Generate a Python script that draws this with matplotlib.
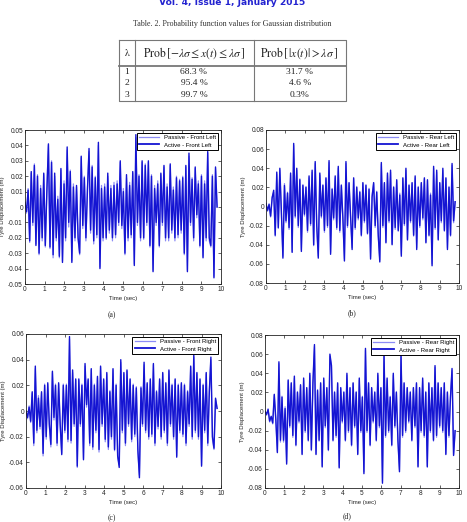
#---------------------------------------
# Tyre displacement - passive vs active
# suspension, four wheels + table page
#---------------------------------------

import numpy as np
import matplotlib
matplotlib.use("Agg")
import matplotlib.pyplot as plt
from matplotlib.ticker import FuncFormatter

# Table data
lambdas = ["1", "2", "3"]
prob_within = ["68.3 %", "95.4 %", "99.7 %"]
prob_outside = ["31.7 %", "4.6 %", "0.3%"]

# Time axis (sec)
T_END = 9.8
x_ticks = [0, 1, 2, 3, 4, 5, 6, 7, 8, 9, 10]

# Tyre displacement, in mm
fl_active_mm = [3, -3, 11, -22, 23, -10, 27, -25, 20, -30,
                12, -20, 22, -25, 10, 41, -26, 29, -31, 22,
                -20, 5, -32, 25, -36, 15, -20, 39, -10, 23,
                -36, 13, -20, 14, -20, -30, 33, -12, 19, -20,
                11, 38, -15, 26, -22, 19, -18, 42, -40, 12,
                -20, 13, -20, 22, -15, 12, -20, 14, -18, 15,
                -10, 30, -12, 10, -30, 21, -20, 14, -18, 23,
                -38, 47, -10, 20, -20, 30, -20, 27, -10, 30,
                -25, 20, -42, 12, -10, 15, -25, 22, -10, 27,
                -20, 13, -20, 28, -15, 11, -20, 19, -18, 17,
                -15, 19, -30, 27, -42, 35, -10, 18, -20, 26,
                -5, 15, -25, 20, -33, 15, -20, 36, -20, -25,
                20, -46, 26, 0]
fl_passive_mm = [3, -4, 12, -23, 22, -12, 28, -24, 21, -31,
                 14, -22, 21, -26, 12, 40, -27, 30, -33, 20,
                 -22, 7, -33, 24, -35, 17, -22, 37, -13, 24,
                 -35, 15, -22, 13, -21, -31, 32, -14, 20, -22,
                 13, 36, -17, 27, -24, 20, -20, 40, -39, 14,
                 -22, 15, -21, 20, -17, 14, -22, 16, -20, 17,
                 -12, 29, -14, 12, -31, 19, -22, 16, -20, 22,
                 -37, 45, -12, 21, -22, 29, -21, 28, -12, 29,
                 -26, 21, -41, 14, -12, 17, -26, 21, -12, 26,
                 -22, 15, -22, 27, -17, 13, -22, 20, -20, 18,
                 -17, 20, -31, 26, -41, 33, -12, 19, -22, 25,
                 -7, 17, -26, 21, -32, 17, -22, 35, -22, -26,
                 21, -45, 25, 0]

rl_active_mm = [3, -4, 2, -10, 9, 17, -30, 36, -22, 40,
                -5, -54, 22, -15, 14, -22, 35, -48, 66, -10,
                40, -20, 28, -47, 22, -8, 20, -25, 32, -18,
                38, -40, 47, -20, -54, 35, -10, 22, -25, 30,
                -20, 48, -50, 18, -12, 32, -22, 42, -25, 22,
                -12, -57, 47, -20, 25, -10, -45, 30, -22, 20,
                -12, 15, -30, 25, -15, 22, -28, 18, -55, 10,
                25, -20, 15, -30, -58, 46, -20, 25, -38, 35,
                -15, 38, -40, 20, -22, 28, -25, 12, -52, 30,
                -18, 40, -35, 22, -15, 25, -30, 32, -45, 20,
                -20, 25, -12, 30, -38, 28, -30, 12, -62, 42,
                -22, 38, -35, 25, -15, 40, -25, 30, -45, 20,
                -30, 45, -15, 5]
rl_passive_mm = [3, -5, 3, -11, 10, 15, -31, 34, -23, 38,
                 -7, -52, 24, -17, 15, -24, 33, -47, 64, -12,
                 38, -22, 29, -45, 23, -10, 21, -27, 30, -20,
                 36, -41, 45, -22, -52, 33, -12, 23, -27, 29,
                 -22, 46, -48, 19, -14, 30, -24, 40, -27, 23,
                 -14, -55, 45, -22, 24, -12, -43, 29, -24, 21,
                 -14, 16, -31, 24, -17, 23, -29, 19, -53, 12,
                 24, -22, 16, -31, -56, 44, -22, 24, -37, 33,
                 -17, 36, -39, 21, -24, 27, -26, 14, -50, 29,
                 -20, 38, -34, 23, -17, 24, -31, 30, -43, 21,
                 -22, 24, -14, 29, -37, 27, -31, 14, -60, 40,
                 -24, 36, -34, 24, -17, 38, -26, 29, -43, 21,
                 -31, 43, -17, 5]

fr_active_mm = [0, -5, 3, -8, 15, -25, 35, -15, 10, -12,
                15, -33, 20, -20, 22, -10, -26, 31, -5, 20,
                -25, 22, -10, -34, 20, -15, 20, -22, 58, -23,
                32, -10, 25, -43, 25, -10, 20, -38, 37, 5,
                25, -25, 33, -28, 20, -15, 27, -30, 35, -10,
                25, -22, 30, -28, 15, -20, 33, -30, 20, -35,
                -44, 40, -15, 30, -25, 32, -10, 25, -22, 20,
                -18, 18, -30, -52, 18, -10, 38, -15, 22, -20,
                25, -18, 37, -25, 15, -12, 25, -20, 30, -15,
                22, -25, 32, -10, 20, -20, 25, -36, 20, -15,
                22, -18, 20, -25, 15, -10, 35, -20, 44, -15,
                30, -20, 25, -43, 20, -15, 30, -25, 15, 42,
                -20, -29, 10, 2]
fr_passive_mm = [0, -6, 4, -9, 14, -27, 33, -17, 12, -14,
                 14, -35, 21, -22, 21, -12, -28, 30, -7, 21,
                 -27, 21, -12, -33, 21, -17, 21, -24, 56, -25,
                 30, -12, 24, -44, 24, -12, 21, -37, 35, 3,
                 24, -27, 32, -30, 21, -17, 26, -32, 34, -12,
                 24, -24, 29, -30, 16, -22, 32, -31, 21, -36,
                 -42, 38, -17, 29, -27, 31, -12, 24, -24, 21,
                 -20, 19, -32, -50, 19, -12, 36, -17, 21, -22,
                 24, -20, 36, -27, 16, -14, 24, -22, 29, -17,
                 21, -27, 31, -12, 21, -22, 24, -35, 21, -17,
                 21, -20, 21, -27, 16, -12, 34, -22, 42, -17,
                 29, -22, 24, -42, 21, -17, 29, -27, 16, 40,
                 -22, -30, 9, 2]

rr_active_mm = [0, -3, 2, -10, -5, -12, 18, -8, -43, 52,
                -30, 15, -30, 3, -55, 33, -15, 30, -25, 37,
                -35, 20, -10, 28, -45, 35, -20, 25, -30, 40,
                -40, 30, 70, -45, 22, -30, 30, -58, 35, -15,
                25, -40, 60, 48, -30, 20, -25, 30, -59, 25,
                -10, 20, -30, 40, -20, 25, -35, 30, -15, 20,
                -45, 35, -20, 15, -65, 66, -20, 30, -35, 25,
                -10, 20, -30, 40, -15, 25, -75, 60, -25, 35,
                -20, 15, -35, 40, -15, 20, -30, -63, 60, -25,
                30, -20, 25, -10, 20, -30, 25, -15, 30, -58,
                25, -20, 35, -25, 20, -58, 30, -20, 25, -30,
                48, -25, 30, -15, 25, -20, 30, -45, 20, -25,
                15, 45, -46, -20]
rr_passive_mm = [0, -4, 3, -11, -6, -13, 17, -10, -42, 50,
                 -32, 16, -32, 5, -53, 32, -17, 29, -27, 35,
                 -36, 21, -12, 27, -44, 33, -22, 24, -31, 38,
                 -41, 29, 68, -44, 23, -31, 29, -57, 33, -17,
                 24, -41, 58, 46, -31, 21, -27, 29, -58, 24,
                 -12, 21, -31, 38, -22, 24, -36, 29, -17, 21,
                 -44, 33, -22, 16, -63, 64, -22, 29, -36, 24,
                 -12, 21, -31, 38, -17, 24, -73, 58, -27, 33,
                 -22, 16, -36, 38, -17, 21, -31, -61, 58, -27,
                 29, -22, 24, -12, 21, -31, 24, -17, 29, -57,
                 24, -22, 33, -27, 21, -57, 29, -22, 24, -31,
                 46, -27, 29, -17, 24, -22, 29, -44, 21, -27,
                 16, 43, -45, -20]

# y ticks for each panel
fl_yticks = [-0.05, -0.04, -0.03, -0.02, -0.01, 0, 0.01, 0.02, 0.03, 0.04, 0.05]
rl_yticks = [-0.08, -0.06, -0.04, -0.02, 0, 0.02, 0.04, 0.06, 0.08]
fr_yticks = [-0.06, -0.04, -0.02, 0, 0.02, 0.04, 0.06]
rr_yticks = [-0.08, -0.06, -0.04, -0.02, 0, 0.02, 0.04, 0.06, 0.08]

# Figure setup (pixel layout)
W, H = 467, 522
plt.rcParams["axes.unicode_minus"] = False
plt.rcParams["mathtext.fontset"] = "stix"
plt.rcParams["font.family"] = ["Liberation Sans", "DejaVu Sans"]

fig = plt.figure(figsize=(W / 100, H / 100), dpi=100)
fig.patch.set_facecolor("white")

# full-page overlay in pixel units
page = fig.add_axes([0, 0, 1, 1])
page.set_xlim(0, W)
page.set_ylim(H, 0)
page.axis("off")

# Journal header (cut at the top of the scan)
page.text(232, 5, "Vol. 4, Issue 1, January 2015", ha="center", va="baseline",
          fontsize=6.6, fontweight="bold", color="#2323d0", family="DejaVu Sans")

# Table caption
page.text(232, 24, "Table. 2. Probability function values for Gaussian distribution",
          ha="center", va="center", fontsize=5.8, color="#333333",
          family="Liberation Serif")

# Table grid
line_kw = dict(color="#777777", lw=0.8)
page.plot([119, 346, 346, 119, 119], [40, 40, 101, 101, 40], **line_kw)
page.plot([135, 135], [40, 101], **line_kw)
page.plot([254, 254], [40, 101], **line_kw)
page.plot([119, 346], [66, 66], color="#777777", lw=1.3)

# Table header
hdr_kw = dict(ha="center", va="center", fontsize=8.4, color="#222222",
              family="Liberation Serif")
page.text(127, 53, r"$\mathrm{\lambda}$", ha="center", va="center", fontsize=7,
          color="#222222")
page.text(194, 53, r"$\mathrm{Prob}\,[-\lambda\sigma \leq x(t) \leq \lambda\sigma\,]$", **hdr_kw)
page.text(299, 53, r"$\mathrm{Prob}\,[\,|x(t)| > \lambda\sigma\,]$", **hdr_kw)

# Table body
row_y = [72, 83, 95]
body_kw = dict(ha="center", va="center", fontsize=6.8, color="#222222",
               family="Liberation Serif")
for y, lam, pin, pout in zip(row_y, lambdas, prob_within, prob_outside):
    page.text(127, y, lam, **body_kw)
    page.text(194, y, pin, **body_kw)
    page.text(300, y, pout, **body_kw)

# Panels
panels = [
    dict(box=(25, 130, 221, 284), active=fl_active_mm, passive=fl_passive_mm,
         yticks=fl_yticks, name="Front Left", tag="(a)", tag_xy=(112, 315)),
    dict(box=(266, 130, 459, 283), active=rl_active_mm, passive=rl_passive_mm,
         yticks=rl_yticks, name="Rear Left", tag="(b)", tag_xy=(352, 313)),
    dict(box=(26, 334, 221, 488), active=fr_active_mm, passive=fr_passive_mm,
         yticks=fr_yticks, name="Front Right", tag="(c)", tag_xy=(112, 518)),
    dict(box=(265, 335, 459, 488), active=rr_active_mm, passive=rr_passive_mm,
         yticks=rr_yticks, name="Rear Right", tag="(d)", tag_xy=(347, 516)),
]

PASSIVE_COLOR = "#8c8cf5"
ACTIVE_COLOR = "#1414d2"

for p in panels:

    left, top, right, bottom = p["box"]
    ax = fig.add_axes([left / W, 1 - bottom / H, (right - left) / W, (bottom - top) / H])

    passive = np.array(p["passive"]) / 1000.0
    active = np.array(p["active"]) / 1000.0
    t_p = np.linspace(0, T_END, len(passive))
    t_a = np.linspace(0, T_END, len(active))

    ax.plot(t_p, passive, color=PASSIVE_COLOR, lw=0.9,
            label="Passive - " + p["name"])
    ax.plot(t_a, active, color=ACTIVE_COLOR, lw=1.0,
            label="Active - " + p["name"])

    ax.set_xlim(0, 10)
    ax.set_ylim(p["yticks"][0], p["yticks"][-1])
    ax.set_xticks(x_ticks)
    ax.set_yticks(p["yticks"])
    ax.yaxis.set_major_formatter(FuncFormatter(lambda v, pos: f"{v:g}"))

    ax.tick_params(direction="in", length=2, width=0.5, labelsize=4.7,
                   top=True, right=True, pad=1.5, colors="#222222")
    for s in ax.spines.values():
        s.set_linewidth(0.6)
        s.set_color("#222222")

    ax.set_xlabel("Time (sec)", fontsize=4.3, labelpad=2, color="#222222")
    ax.set_ylabel("Tyre Displacement (m)", fontsize=4.3, labelpad=2, color="#222222")

    leg = ax.legend(loc="upper right", fontsize=4.3, handlelength=3.4,
                    borderaxespad=0.5, fancybox=False, framealpha=1,
                    edgecolor="black", borderpad=0.35, labelspacing=0.35)
    leg.get_frame().set_linewidth(0.7)
    leg.get_lines()[0].set_linewidth(0.9)
    leg.get_lines()[1].set_linewidth(1.3)

    page.text(p["tag_xy"][0], p["tag_xy"][1], p["tag"], ha="center", va="center",
              fontsize=5.5, color="#222222", family="Liberation Serif")

fig.savefig("out.png", dpi=100, facecolor="white")
